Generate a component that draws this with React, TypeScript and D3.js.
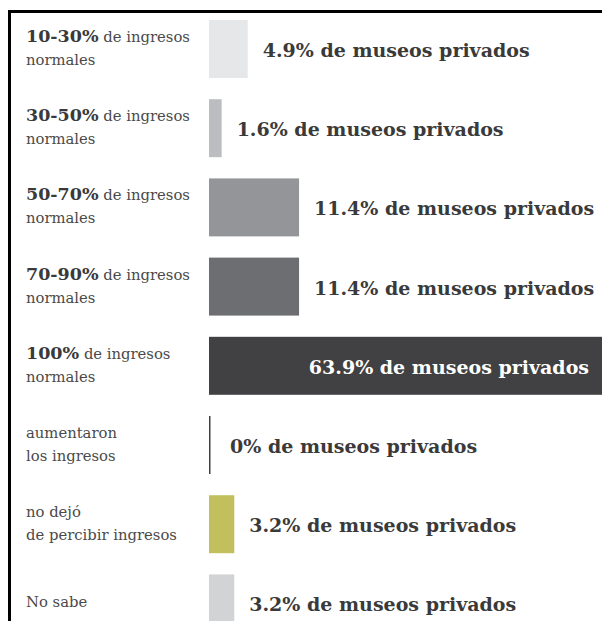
import { useEffect, useRef } from "react";
import * as d3 from "d3";

// categories (left labels) and share of private museums (%)
const labelBold = ["10-30%", "30-50%", "50-70%", "70-90%", "100%", "", "", ""];
const labelLine1 = [" de ingresos", " de ingresos", " de ingresos", " de ingresos", " de ingresos", "aumentaron", "no dejó", ""];
const labelLine2 = ["normales", "normales", "normales", "normales", "normales", "los ingresos", "de percibir ingresos", "No sabe"];
const values = [4.9, 1.6, 11.4, 11.4, 63.9, 0, 3.2, 3.2];
const barColors = ["#e6e7e8", "#bcbdc0", "#939598", "#6d6e71", "#414042", "#414042", "#c2c05c", "#d1d3d4"];

const W = 602;
const H = 621;

const App = () => {
  const ref = useRef<SVGSVGElement>(null);

  useEffect(() => {
    const svg = d3.select(ref.current);
    svg.selectAll("*").remove();

    const idx = values.map((_, i) => i);

    const x = d3.scaleLinear().domain([0, 10]).range([209, 288]);
    const y = d3
      .scaleBand<number>()
      .domain(idx)
      .range([20, 632.4])
      .paddingInner(0.268)
      .paddingOuter(0)
      .align(0);

    // frame (top + left rules)
    svg.append("rect").attr("x", 8).attr("y", 10).attr("width", W - 8).attr("height", 3).attr("fill", "#000");
    svg.append("rect").attr("x", 8).attr("y", 10).attr("width", 3).attr("height", H - 10).attr("fill", "#000");

    const rows = svg
      .selectAll(".row")
      .data(idx)
      .enter()
      .append("g")
      .attr("class", "row");

    // bars (0% drawn as thin rule)
    rows
      .append("rect")
      .attr("x", x(0))
      .attr("y", (i) => y(i)!)
      .attr("width", (i) => (values[i] === 0 ? 1.5 : x(values[i]) - x(0)))
      .attr("height", y.bandwidth())
      .attr("fill", (i) => barColors[i]);

    // value labels
    rows
      .append("text")
      .attr("x", (i) => (values[i] > 40 ? 589 : Math.max(x(values[i]) + 15, x(0) + 21)))
      .attr("y", (i) => y(i)! + y.bandwidth() / 2 + 8)
      .attr("text-anchor", (i) => (values[i] > 40 ? "end" : "start"))
      .attr("font-family", "'DejaVu Serif', serif")
      .attr("font-weight", "bold")
      .attr("font-size", 19)
      .attr("fill", (i) => (values[i] > 40 ? "#ffffff" : "#3a3a3a"))
      .text((i) => `${values[i]}% de museos privados`);

    // category labels
    const lab = rows
      .append("text")
      .attr("font-family", "'DejaVu Serif', serif")
      .attr("fill", "#4a4a4a")
      .attr("font-size", 14.8);

    lab
      .append("tspan")
      .attr("x", 26)
      .attr("y", (i) => y(i)! + 22)
      .attr("font-weight", "bold")
      .attr("font-size", 17.5)
      .attr("fill", "#3a3a3a")
      .text((i) => labelBold[i]);

    lab
      .append("tspan")
      .attr("x", (i) => (labelBold[i] ? null : 26))
      .attr("y", (i) => y(i)! + 22)
      .text((i) => labelLine1[i]);

    lab
      .append("tspan")
      .attr("x", 26)
      .attr("y", (i) => y(i)! + (labelLine1[i] ? 45 : 33))
      .text((i) => labelLine2[i]);
  }, []);

  return (
    <svg
      ref={ref}
      width={W}
      height={H}
      style={{ position: "absolute", left: 0, top: 0, background: "#fff" }}
    />
  );
};

export default App;
